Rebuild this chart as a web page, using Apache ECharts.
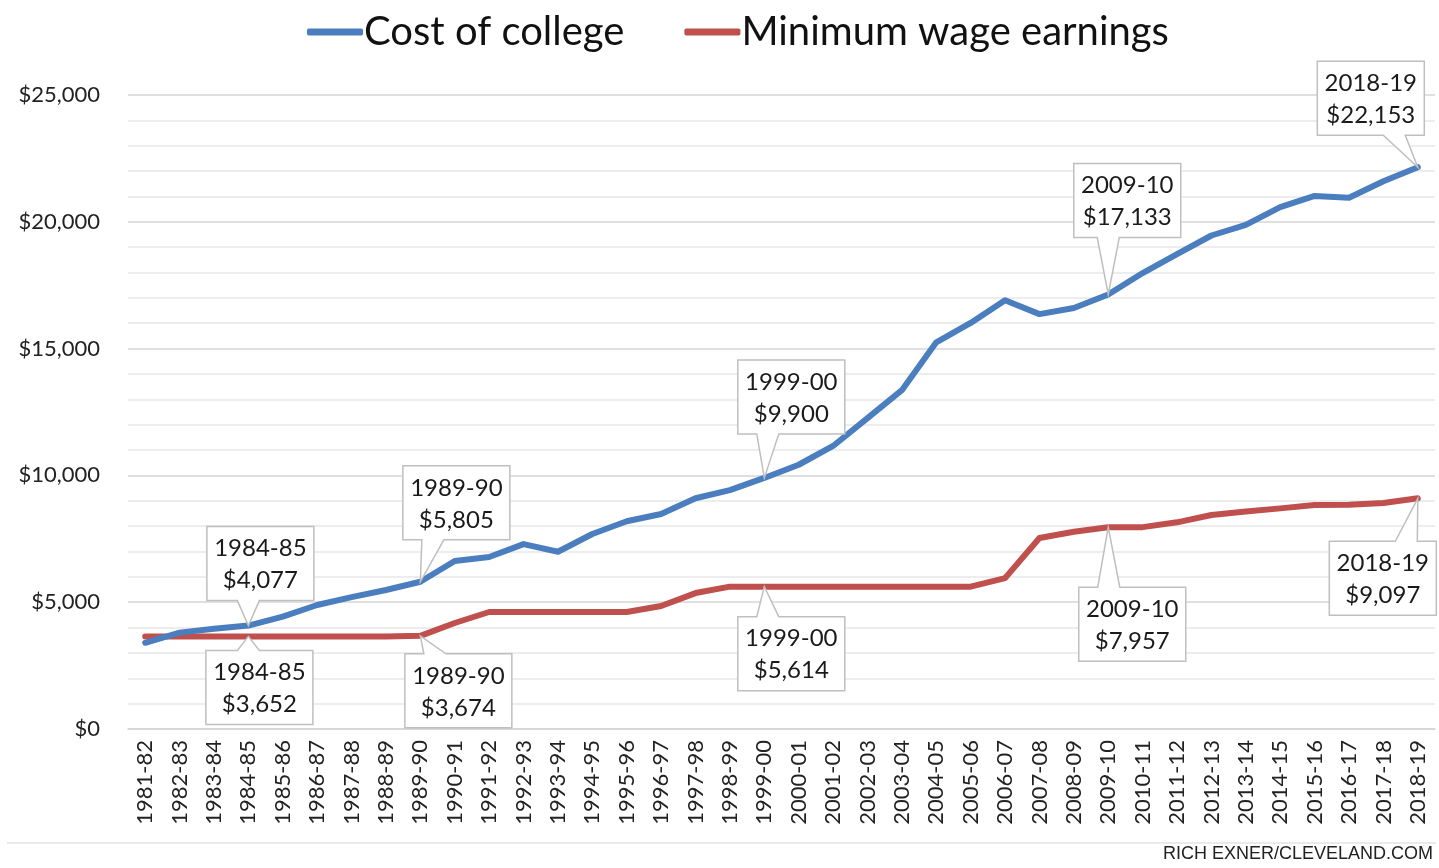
<!DOCTYPE html>
<html>
<head>
<meta charset="utf-8">
<title>Cost of college vs minimum wage earnings</title>
<script src="https://cdn.jsdelivr.net/npm/echarts@6/dist/echarts.min.js"></script>
<style>
  html, body { margin: 0; padding: 0; background: #fff; }
  #chart { width: 1439px; height: 868px; }
</style>
</head>
<body>
<div id="chart"></div>
<script>
// school years
const categories = [
  '1981-82', '1982-83', '1983-84', '1984-85', '1985-86', '1986-87', '1987-88', '1988-89',
  '1989-90', '1990-91', '1991-92', '1992-93', '1993-94', '1994-95', '1995-96', '1996-97',
  '1997-98', '1998-99', '1999-00', '2000-01', '2001-02', '2002-03', '2003-04', '2004-05',
  '2005-06', '2006-07', '2007-08', '2008-09', '2009-10', '2010-11', '2011-12', '2012-13',
  '2013-14', '2014-15', '2015-16', '2016-17', '2017-18', '2018-19'
]
const collegeCost = [
  3400, 3800, 3950, 4077, 4430, 4890, 5200, 5480,
  5805, 6625, 6780, 7290, 6990, 7690, 8190, 8480,
  9100, 9420, 9900, 10420, 11160, 12260, 13360, 15250,
  16010, 16910, 16360, 16600, 17133, 17980, 18730, 19460,
  19880, 20580, 21020, 20950, 21600, 22153
]
const minWageEarnings = [
  3652, 3652, 3652, 3652, 3652, 3652, 3652, 3652,
  3674, 4180, 4614, 4614, 4614, 4614, 4614, 4850,
  5360, 5614, 5614, 5614, 5614, 5614, 5614, 5614,
  5614, 5950, 7530, 7780, 7957, 7960, 8150, 8440,
  8580, 8700, 8830, 8840, 8910, 9097
]
const yTicks = [0, 5000, 10000, 15000, 20000, 25000]

// which points get a callout, and where the box sits relative to the point
const callouts = [
  { series: 0, year: '1984-85', dx: 12, dy: -62 },
  { series: 0, year: '1989-90', dx: 36, dy: -79 },
  { series: 0, year: '1999-00', dx: 27, dy: -81 },
  { series: 0, year: '2009-10', dx: 19, dy: -94 },
  { series: 0, year: '2018-19', dx: -47, dy: -69 },
  { series: 1, year: '1984-85', dx: 11, dy: 51 },
  { series: 1, year: '1989-90', dx: 38, dy: 55 },
  { series: 1, year: '1999-00', dx: 27, dy: 67 },
  { series: 1, year: '2009-10', dx: 24, dy: 97 },
  { series: 1, year: '2018-19', dx: -35, dy: 80 }
]

const FONT = 'Lato, "Open Sans", sans-serif'
const money = v => '$' + v.toLocaleString('en-US')
const seriesValues = [collegeCost, minWageEarnings]

const calloutData = callouts.map(c => {
  const i = categories.indexOf(c.year)
  const v = seriesValues[c.series][i]
  return [i, v, c.year + '\n' + money(v), c.dx, c.dy]
})

function renderCallout(params, api) {
  const p = api.coord([api.value(0), api.value(1)])
  const c = callouts[params.dataIndex]
  const w = 107, h = 74
  const cx = p[0] + c.dx, cy = p[1] + c.dy
  const l = cx - w / 2, r = cx + w / 2, t = cy - h / 2, b = cy + h / 2
  const base = Math.min(Math.max(p[0], l + 30), r - 30)
  let pts
  if (p[1] > b) {
    pts = [[l, t], [r, t], [r, b], [base + 11, b], p, [base - 11, b], [l, b]]
  } else {
    pts = [[l, t], [base - 11, t], p, [base + 11, t], [r, t], [r, b], [l, b]]
  }
  return {
    type: 'group',
    children: [
      {
        type: 'polygon',
        shape: { points: pts },
        style: { fill: '#fff', stroke: '#bfbfbf', lineWidth: 1.5 }
      },
      {
        type: 'text',
        style: {
          text: calloutData[params.dataIndex][2],
          x: cx, y: cy + 1,
          align: 'center', verticalAlign: 'middle',
          fontFamily: FONT, fontSize: 24, lineHeight: 32, fill: '#1a1a1a'
        }
      }
    ]
  }
}

const chart = echarts.init(document.getElementById('chart'))
chart.setOption({
  backgroundColor: '#fff',
  animation: false,
  legend: {
    top: 7,
    left: 302,
    itemWidth: 56,
    itemHeight: 7,
    itemGap: 60,
    icon: 'roundRect',
    textStyle: { fontFamily: FONT, fontSize: 40, color: '#111', padding: [0, 0, 0, -4] },
    data: ['Cost of college', 'Minimum wage earnings']
  },
  grid: { left: 128, right: 4, top: 95, bottom: 139 },
  xAxis: {
    type: 'category',
    data: categories,
    boundaryGap: true,
    axisTick: { show: false },
    axisLine: { lineStyle: { color: '#d4d4d4', width: 1.5 } },
    axisLabel: {
      rotate: 90,
      interval: 0,
      margin: 11,
      fontFamily: FONT,
      fontSize: 22,
      color: '#222'
    }
  },
  yAxis: {
    type: 'value',
    min: yTicks[0],
    max: yTicks[yTicks.length - 1],
    interval: 5000,
    axisLine: { show: false },
    axisTick: { show: false },
    axisLabel: {
      margin: 28,
      fontFamily: FONT,
      fontSize: 22,
      color: '#222',
      formatter: v => money(v)
    },
    splitLine: { lineStyle: { color: '#d6d6d6', width: 1.5 } },
    minorTick: { show: false, splitNumber: 5 },
    minorSplitLine: { show: true, lineStyle: { color: '#e8e8e8', width: 1.5 } }
  },
  series: [
    {
      name: 'Cost of college',
      type: 'line',
      data: collegeCost,
      symbol: 'none',
      color: '#4a7ebf',
      lineStyle: { width: 6, color: '#4a7ebf', cap: 'round', join: 'round' },
      z: 3
    },
    {
      name: 'Minimum wage earnings',
      type: 'line',
      data: minWageEarnings,
      symbol: 'none',
      color: '#c0504d',
      lineStyle: { width: 6, color: '#c0504d', cap: 'round', join: 'round' },
      z: 2
    },
    {
      type: 'custom',
      data: calloutData,
      renderItem: renderCallout,
      silent: true,
      clip: false,
      z: 10
    }
  ],
  graphic: [
    {
      type: 'line',
      shape: { x1: 7, y1: 843, x2: 1436, y2: 843 },
      style: { stroke: '#e3e3e3', lineWidth: 1.5 }
    },
    {
      type: 'text',
      right: 6,
      top: 845,
      style: {
        text: 'RICH EXNER/CLEVELAND.COM',
        fontFamily: '"Liberation Sans", Arial, sans-serif',
        fontSize: 18,
        fill: '#222'
      }
    }
  ]
})
</script>
</body>
</html>
